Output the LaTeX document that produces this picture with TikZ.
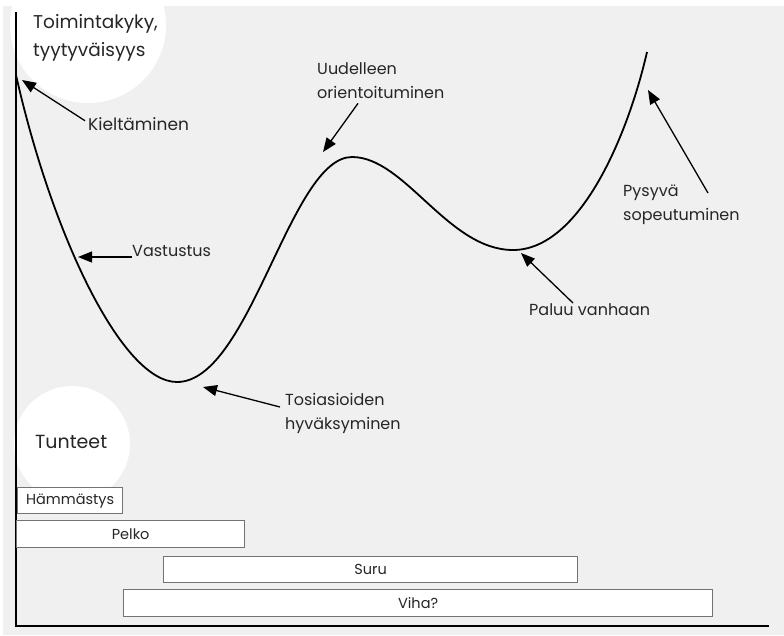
\documentclass[tikz,border=0pt]{standalone}
\usepackage{fontspec}
\setmainfont{Poppins}
\usetikzlibrary{arrows.meta,calc}
\begin{document}
\begin{tikzpicture}[x=1pt,y=-1pt,
  lbl/.style={font=\fontsize{16}{24}\selectfont, text=black!85, inner sep=0pt, anchor=north west, align=left},
  arr/.style={-{Triangle[length=14pt,width=11pt]}, line width=1.3pt, black},
  bar/.style={draw=black!55, fill=white, line width=1.3pt, font=\fontsize{14.5}{14.5}\selectfont, text=black!85, inner sep=0pt, anchor=north west},
  axis/.style={line width=2pt, black},
  curve/.style={line width=1.8pt, black},
]
\useasboundingbox (0,0) rectangle (784,635);
\fill[white] (0,0) rectangle (784,635);
\fill[gray!12] (3,6) rectangle (784,635);
\fill[white] (88,25) circle (78);
\fill[white] (72,444) circle (58);

% axes
\coordinate (ytop) at (16,12);
\coordinate (orig) at (16,626);
\coordinate (xend) at (769,626);
\draw[axis] (ytop) -- (orig) -- (xend);

% curve
\coordinate (c0) at (16,75);
\coordinate (c1) at (177,382);
\coordinate (c2) at (352,157);
\coordinate (c3) at (513,250);
\coordinate (c4) at (647,52);
\draw[curve] (c0) .. controls (52,235) and (122,382) .. (c1)
                  .. controls (250,382) and (290,157) .. (c2)
                  .. controls (405,157) and (448,250) .. (c3)
                  .. controls (580,250) and (628,135) .. (c4);

% labels
\node[lbl, font=\fontsize{18.5}{28}\selectfont] (title) at (33,14) {Toimintakyky,\\tyytyväisyys};
\node[lbl, font=\fontsize{19}{24}\selectfont] (tunteet) at (35,435) {Tunteet};
\node[lbl, font=\fontsize{17}{24}\selectfont] (kielt) at (88,117) {Kieltäminen};
\node[lbl] (vast) at (132,245) {Vastustus};
\node[lbl] (tosi) at (285,393) {Tosiasioiden\\hyväksyminen};
\node[lbl] (uud) at (317,62) {Uudelleen\\orientoituminen};
\node[lbl] (paluu) at (529,303) {Paluu vanhaan};
\node[lbl] (pys) at (623,185) {Pysyvä\\sopeutuminen};

% arrow tips
\coordinate (kieltip) at (22,80);
\coordinate (vasttip) at (78,257);
\coordinate (tositip) at (203,387);
\coordinate (uudtip) at (323,152);
\coordinate (palutip) at (521,253);
\coordinate (pystip) at (648,90);

\draw[arr] ($(kielt.west)+(-3,-3)$) -- (kieltip);
\draw[arr] (vast.west |- vasttip) -- (vasttip);
\draw[arr] ($(tosi.north west)+(-5,14)$) -- (tositip);
\draw[arr] ($(uud.south west)+(41,5)$) -- (uudtip);
\draw[arr] ($(paluu.north west)+(44,0)$) -- (palutip);
\draw[arr] ($(pys.north west)+(85,8)$) -- (pystip);

% emotion bars
\node[bar, minimum width=105, minimum height=26] (ham) at (17,487) {Hämmästys};
\node[bar, minimum width=228, minimum height=27] (pelko) at (16,520) {Pelko};
\node[bar, minimum width=414, minimum height=26] (suru) at (163,556) {Suru};
\node[bar, minimum width=589, minimum height=27] (viha) at (123,589) {Viha?};
\end{tikzpicture}
\end{document}
